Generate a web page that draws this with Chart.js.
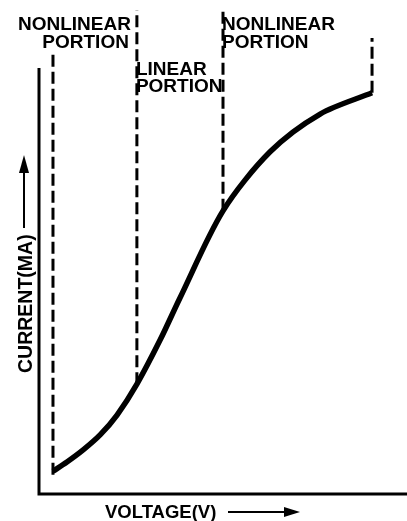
<!DOCTYPE html>
<html>
<head>
<meta charset="utf-8">
<script src="https://cdn.jsdelivr.net/npm/chart.js@4.4.1/dist/chart.umd.min.js"></script>
<style>
  html, body { margin: 0; padding: 0; background: #fff; }
  #wrap { width: 407px; height: 521px; }
</style>
</head>
<body>
<div id="wrap"><canvas id="curveChart" width="407" height="521"></canvas></div>
<script>
// curve (voltage / current, arbitrary units 0-100)
const voltage = [3.8, 7.6, 12.0, 16.6, 21.2, 26.6, 32.9, 38.3, 50.0, 62.8, 76.4, 90.5];
const current = [4.7, 6.6, 9.1, 12.2, 16.3, 22.7, 31.8, 40.5, 58.5, 70.7, 78.5, 82.9];

// dashed region boundaries
const boundaryX = [3.8, 26.6, 50.0, 90.5];
const boundaryBottom = [4.0, 22.7, 58.5, 82.9];
const boundaryTop = [91.1, 100, 100, 94.2];

const regionLabels = [['NONLINEAR', 'PORTION'], ['LINEAR', 'PORTION'], ['NONLINEAR', 'PORTION']];
const xTitle = 'VOLTAGE(V)';
const yTitle = 'CURRENT(MA)';
const yAxisTop = 88;
const xAxisEnd = 100;

const datasets = [];

// axes
datasets.push({
    data: [{ x: 0, y: yAxisTop }, { x: 0, y: 0 }, { x: xAxisEnd, y: 0 }],
    borderColor: '#000', borderWidth: 3, pointRadius: 0, showLine: true, clip: false
});

boundaryX.forEach((bx, i) => {
    datasets.push({
        data: [{ x: bx, y: boundaryBottom[i] }, { x: bx, y: boundaryTop[i] }],
        borderColor: '#000', borderWidth: 3, borderDash: [12, 5],
        pointRadius: 0, showLine: true, clip: false
    });
});

datasets.push({
    data: voltage.map((v, i) => ({ x: v, y: current[i] })),
    borderColor: '#000', borderWidth: 5.5, pointRadius: 0, showLine: true,
    tension: 0.3, borderCapStyle: 'butt', clip: false
});

const textPlugin = {
    id: 'texts',
    afterDraw(chart) {
        const { ctx, scales: { x } } = chart;
        ctx.save();
        ctx.fillStyle = '#000';
        ctx.strokeStyle = '#000';
        ctx.font = 'bold 19px "Liberation Sans", Arial, sans-serif';
        ctx.textBaseline = 'alphabetic';

        // region labels
        const b1 = x.getPixelForValue(boundaryX[1]);
        const b2 = x.getPixelForValue(boundaryX[2]);
        ctx.textAlign = 'right';
        ctx.fillText(regionLabels[0][0], b1 - 6, 30);
        ctx.fillText(regionLabels[0][1], b1 - 8, 48);
        ctx.textAlign = 'left';
        ctx.fillText(regionLabels[1][0], b1 - 1, 75);
        ctx.fillText(regionLabels[1][1], b1 - 1, 92);
        ctx.fillText(regionLabels[2][0], b2 - 1, 30);
        ctx.fillText(regionLabels[2][1], b2 - 1, 48);

        // x title + arrow
        ctx.font = 'bold 18.5px "Liberation Sans", Arial, sans-serif';
        ctx.fillText(xTitle, 105, 518);
        ctx.lineWidth = 2;
        ctx.beginPath();
        ctx.moveTo(228, 512); ctx.lineTo(288, 512); ctx.stroke();
        ctx.beginPath();
        ctx.moveTo(300, 512); ctx.lineTo(284, 507); ctx.lineTo(284, 517); ctx.closePath(); ctx.fill();

        // y title + arrow
        ctx.save();
        ctx.translate(32, 373);
        ctx.rotate(-Math.PI / 2);
        ctx.font = 'bold 19.5px "Liberation Sans", Arial, sans-serif';
        ctx.fillText(yTitle, 0, 0);
        ctx.restore();
        ctx.beginPath();
        ctx.moveTo(24, 228); ctx.lineTo(24, 168); ctx.stroke();
        ctx.beginPath();
        ctx.moveTo(24, 155); ctx.lineTo(19, 173); ctx.lineTo(29, 173); ctx.closePath(); ctx.fill();
        ctx.restore();
    }
};

new Chart(document.getElementById('curveChart'), {
    type: 'scatter',
    data: { datasets },
    options: {
        responsive: false,
        animation: false,
        layout: { padding: { left: 39, right: 0, top: 10, bottom: 27 } },
        scales: {
            x: { type: 'linear', min: 0, max: 100, display: false },
            y: { type: 'linear', min: 0, max: 100, display: false }
        },
        plugins: { legend: { display: false }, tooltip: { enabled: false } }
    },
    plugins: [textPlugin]
});
</script>
</body>
</html>
